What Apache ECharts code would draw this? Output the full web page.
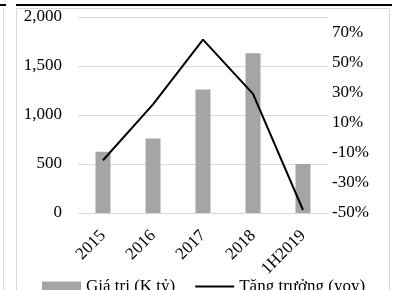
<!DOCTYPE html>
<html>
<head>
<meta charset="utf-8">
<script src="https://cdn.jsdelivr.net/npm/echarts@6/dist/echarts.min.js"></script>
<style>
  html, body { margin: 0; padding: 0; background: #fff; }
  #chart { width: 399px; height: 290px; }
</style>
</head>
<body>
<div id="chart"></div>
<script>
// values
const years = ["2015", "2016", "2017", "2018", "1H2019"];
const giaTri = [625, 760, 1260, 1630, 500];        // K tỷ
const tangTruong = [-15, 22, 65, 29, -48];         // % yoy
const leftTicks = [0, 500, 1000, 1500, 2000];
const rightTicks = [-50, -30, -10, 10, 30, 50, 70];

const font = "Liberation Serif";
const lineGray = "#d9d9d9";

const chart = echarts.init(document.getElementById("chart"), null, { renderer: "canvas" });

chart.setOption({
  animation: false,
  backgroundColor: "#fff",
  textStyle: { fontFamily: font, color: "#000" },
  grid: { left: 78, right: 71, top: 17, bottom: 77 },
  legend: {
    left: 37,
    top: 273,
    itemWidth: 39,
    itemHeight: 10,
    itemGap: 20,
    symbolKeepAspect: true,
    textStyle: { fontFamily: font, fontSize: 17, color: "#000" },
    data: [
      { name: "Giá trị (K tỷ)", icon: "rect" },
      { name: "Tăng trưởng (yoy)", icon: "path://M0,0h39v2h-39z", itemStyle: { color: "#000" } },
    ],
  },
  xAxis: {
    type: "category",
    data: years,
    axisTick: { show: false },
    axisLine: { lineStyle: { color: lineGray, width: 1 } },
    axisLabel: { rotate: 45, fontFamily: font, fontSize: 17, color: "#000", margin: 20 },
  },
  yAxis: [
    {
      type: "value",
      min: leftTicks[0],
      max: leftTicks[leftTicks.length - 1],
      interval: 500,
      axisLine: { show: false },
      axisTick: { show: false },
      splitLine: { lineStyle: { color: lineGray, width: 1 } },
      axisLabel: {
        fontFamily: font, fontSize: 17, color: "#000", margin: 16,
        formatter: (v) => v.toLocaleString("en-US"),
      },
    },
    {
      type: "value",
      min: -50,
      max: 80,
      interval: 10,
      axisLine: { show: false },
      axisTick: { show: false },
      splitLine: { show: false },
      axisLabel: {
        fontFamily: font, fontSize: 17, color: "#000", margin: 4,
        formatter: (v) => (rightTicks.indexOf(v) >= 0 ? v + "%" : ""),
      },
    },
  ],
  series: [
    {
      name: "Giá trị (K tỷ)",
      type: "bar",
      data: giaTri,
      barWidth: "30%",
      itemStyle: { color: "#a5a5a5" },
    },
    {
      name: "Tăng trưởng (yoy)",
      type: "line",
      yAxisIndex: 1,
      data: tangTruong,
      symbol: "none",
      lineStyle: { color: "#000", width: 2 },
      itemStyle: { color: "#000" },
    },
  ],
  graphic: [
    { type: "rect", shape: { x: 16.5, y: 8.5, width: 373, height: 300 }, style: { fill: null, stroke: lineGray, lineWidth: 1 }, silent: true },
    { type: "line", shape: { x1: 16, y1: 5, x2: 392, y2: 5 }, style: { stroke: "#000", lineWidth: 2 }, silent: true },
    { type: "line", shape: { x1: 0, y1: 5, x2: 6, y2: 5 }, style: { stroke: "#000", lineWidth: 2 }, silent: true },
    { type: "line", shape: { x1: 3.5, y1: 8, x2: 3.5, y2: 290 }, style: { stroke: lineGray, lineWidth: 1 }, silent: true },
  ],
});
</script>
</body>
</html>
